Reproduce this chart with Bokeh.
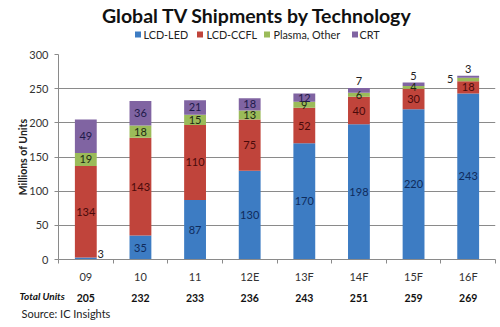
from bokeh.plotting import figure
from bokeh.layouts import column
from bokeh.models import ColumnDataSource, FixedTicker, Range1d
from bokeh.core.properties import value
from bokeh.embed import file_html
from bokeh.resources import INLINE

# ---- data ----
years = ["09", "10", "11", "12E", "13F", "14F", "15F", "16F"]
lcd_led = [3, 35, 87, 130, 170, 198, 220, 243]
lcd_ccfl = [134, 143, 110, 75, 52, 40, 30, 18]
plasma = [19, 18, 15, 13, 9, 6, 4, 5]
crt = [49, 36, 21, 18, 12, 7, 5, 3]
totals = [205, 232, 233, 236, 243, 251, 259, 269]
series_names = ["LCD-LED", "LCD-CCFL", "Plasma, Other", "CRT"]
y_ticks = [0, 50, 100, 150, 200, 250, 300]
title_text = "Global TV Shipments by Technology"
source_text = "Source:  IC Insights"
totals_label = "Total Units"

colors = ["#3d7cc3", "#c0443b", "#9bbb59", "#8064a2"]
label_colors = ["#0f2b5c", "#4a0a0a", "#1c2a14", "#1e1a4a"]
FONT = "Lato"

W = 500
TOP_H, MAIN_H, BOT_H = 44, 243, 40
LEFT, RIGHT, MT, MB = 58, 5, 10, 28
fw, fh = W - LEFT - RIGHT, MAIN_H - MT - MB
n = len(years)
xs = [i + 0.5 for i in range(n)]
kx = fw / n
ky = fh / 300.0

# legend layout (pixel positions of swatches / label starts)
legend_swatch_x = [137.5, 199.5, 266.5, 354.5]
legend_text_x = [143, 206, 273, 359]
legend_y = 34


def xdat(px):
    return (px - LEFT) / kx


def bare(height, xr, yr):
    f = figure(width=W, height=height, output_backend="svg", toolbar_location=None,
               x_range=xr, y_range=yr, x_axis_type=None, y_axis_type=None,
               min_border_left=0, min_border_right=0,
               min_border_top=0, min_border_bottom=0, frame_align=False)
    f.outline_line_color = None
    f.background_fill_color = "white"
    f.border_fill_color = "white"
    f.grid.visible = False
    return f


# ---- top panel: title + legend ----
pt = bare(TOP_H, Range1d(0, W), Range1d(TOP_H, 0))
pt.text(x=[257], y=[15], text=[title_text], text_font=value(FONT), text_font_size="19.5px",
        text_font_style="bold", text_color="#111111", text_align="center",
        text_baseline="middle")
pt.rect(x=legend_swatch_x, y=[legend_y] * 4, width=6, height=6, color=colors, line_color=None)
pt.text(x=legend_text_x, y=[legend_y] * 4, text=series_names, text_font=value(FONT),
        text_font_size="10.8px", text_color="#222222", text_align="left",
        text_baseline="middle")

# ---- main chart ----
p = figure(width=W, height=MAIN_H, output_backend="svg", toolbar_location=None,
           x_range=Range1d(0, n), y_range=Range1d(0, 300),
           min_border_left=LEFT, min_border_right=RIGHT,
           min_border_top=MT, min_border_bottom=MB, frame_align=False)
p.outline_line_color = None
p.background_fill_color = "white"
p.border_fill_color = "white"

src = ColumnDataSource(dict(x=xs, led=lcd_led, ccfl=lcd_ccfl, plasma=plasma, crt=crt))
keys = ["led", "ccfl", "plasma", "crt"]
p.vbar_stack(keys, x="x", width=0.4, source=src, color=colors, line_color=None)

p.xgrid.grid_line_color = None
p.ygrid.grid_line_color = "#8a8a8a"
p.ygrid.ticker = FixedTicker(ticks=y_ticks)

xa = p.xaxis[0]
xa.ticker = FixedTicker(ticks=xs, minor_ticks=list(range(n + 1)))
xa.major_label_overrides = {x: y for x, y in zip(xs, years)}
xa.major_tick_line_color = None
xa.minor_tick_line_color = "#8a8a8a"
xa.minor_tick_out = 4
xa.minor_tick_in = 0
xa.axis_line_color = "#8a8a8a"
xa.major_label_text_font = FONT
xa.major_label_text_font_size = "11px"
xa.major_label_text_color = "#333333"
xa.major_label_standoff = 4

ya = p.yaxis[0]
ya.ticker = FixedTicker(ticks=y_ticks)
ya.axis_line_color = "#8a8a8a"
ya.major_tick_line_color = "#8a8a8a"
ya.major_tick_out = 4
ya.major_tick_in = 0
ya.minor_tick_line_color = None
ya.major_label_text_font = FONT
ya.major_label_text_font_size = "11px"
ya.major_label_text_color = "#333333"
ya.major_label_standoff = 6
ya.axis_label = "Millions of Units"
ya.axis_label_text_font = FONT
ya.axis_label_text_font_size = "10.5px"
ya.axis_label_text_font_style = "bold"
ya.axis_label_text_color = "#222222"
ya.axis_label_standoff = -3

# segment labels
series = [lcd_led, lcd_ccfl, plasma, crt]
in_x, in_y, in_t, in_c = [], [], [], []
out_x, out_y, out_t = [], [], []
for i in range(n):
    base = 0
    for s, vals in enumerate(series):
        v = vals[i]
        mid = base + v / 2.0
        if s == 0 and v < 8:
            out_x.append(xs[i] + 15 / kx); out_y.append(6 / ky); out_t.append(str(v))
        elif s == 2 and v * ky < 4.5 and crt[i] * ky < 5 and lcd_ccfl[i] < 25:
            out_x.append(xs[i] - 18 / kx); out_y.append(mid); out_t.append(str(v))
        elif s == 3 and v * ky < 5.5:
            out_x.append(xs[i]); out_y.append(totals[i] + 7 / ky); out_t.append(str(v))
        else:
            in_x.append(xs[i]); in_y.append(mid); in_t.append(str(v)); in_c.append(label_colors[s])
        base += v

p.text(x=in_x, y=in_y, text=in_t, text_color=in_c, text_font=value(FONT),
       text_font_size="11px", text_align="center", text_baseline="middle")
p.text(x=out_x, y=out_y, text=out_t, text_color="#222222", text_font=value(FONT),
       text_font_size="11px", text_align="center", text_baseline="middle")

# ---- bottom panel: totals + source ----
pb = bare(BOT_H, Range1d(xdat(0), xdat(W)), Range1d(BOT_H, 0))
pb.text(x=xs, y=[10] * n, text=[str(v) for v in totals], text_font=value(FONT),
        text_font_size="10.5px", text_font_style="bold", text_color="#111111",
        text_align="center", text_baseline="middle")
pb.text(x=[xdat(19)], y=[8.5], text=[totals_label], text_font=value(FONT),
        text_font_size="10px", text_font_style="bold italic", text_color="#111111",
        text_align="left", text_baseline="middle")
pb.text(x=[xdat(21)], y=[26], text=[source_text], text_font=value(FONT),
        text_font_size="11px", text_color="#222222",
        text_align="left", text_baseline="middle")

layout = column(pt, p, pb, spacing=0)
open("out.html", "w").write(file_html(layout, INLINE))
